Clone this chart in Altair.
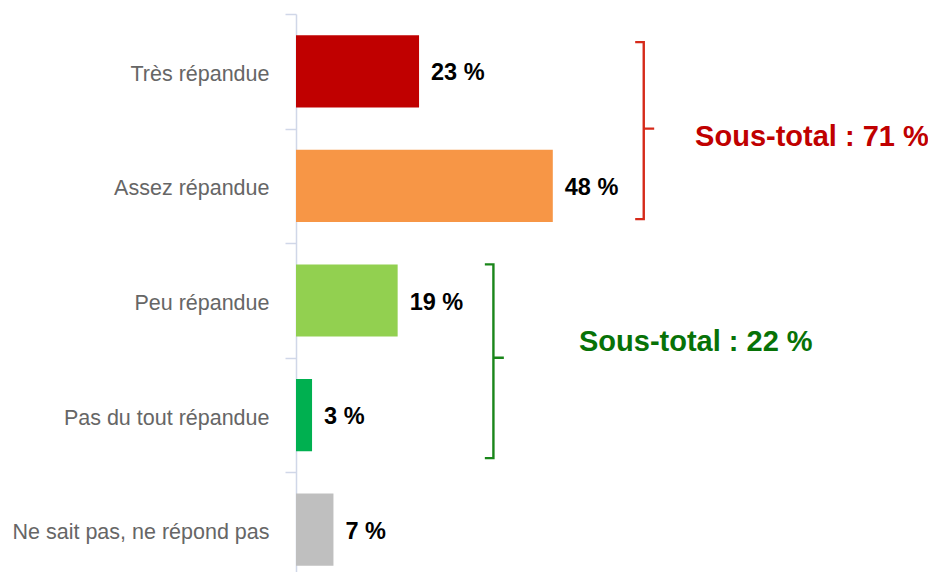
import altair as alt
import pandas as pd

# ---- data ----
categories = ["Très répandue", "Assez répandue", "Peu répandue",
              "Pas du tout répandue", "Ne sait pas, ne répond pas"]
values = [23, 48, 19, 3, 7]
bar_colors = ["#C00000", "#F79646", "#92D050", "#00B050", "#BFBFBF"]

# sub-totals: index of first and last category in each group
group_first = [0, 2]
group_last = [1, 3]
group_line_colors = ["#D62A1A", "#1A861A"]
group_text_colors = ["#C00000", "#077207"]

# ---- layout (styling constants, not data) ----
FONT = "Liberation Sans"
PX_PER_UNIT = 5.35
W = int(round(100 * PX_PER_UNIT))
RANGE_H = 573          # 5 bands of ~114.6 px
H = 558
SVG_W = 920
bracket_x = [65.0, 36.9]
bracket_top_off = [0.245, 0.185]
bracket_bot_off = [0.79, 0.875]
serif_len = 1.6
tip_len = 1.95
text_x = [74.6, 52.9]
text_y = [1.07, 2.86]

df = pd.DataFrame({"cat": categories, "val": values, "color": bar_colors,
                   "label": [f"{v} %" for v in values]})

# bracket paths built from the grouped categories
rows = []
for g, (a, b) in enumerate(zip(group_first, group_last)):
    xv = bracket_x[g]
    top = a + bracket_top_off[g]
    bot = b + bracket_bot_off[g]
    tip = (a + b + 1) / 2
    pts = [(xv - serif_len, top), (xv, top), (xv, tip), (xv + tip_len, tip),
           (xv, tip), (xv, bot), (xv - serif_len, bot)]
    for i, (px, py) in enumerate(pts):
        rows.append({"g": g, "o": i, "bx": px, "by": py,
                     "col": group_line_colors[g]})
bdf = pd.DataFrame(rows)

sdf = pd.DataFrame({
    "tx": text_x,
    "ty": text_y,
    "col": group_text_colors,
    "txt": [f"Sous-total : {sum(values[a:b + 1])} %"
            for a, b in zip(group_first, group_last)],
})

xscale = alt.Scale(domain=[0, 100])
yband = alt.Y("cat:N", sort=categories,
              scale=alt.Scale(paddingInner=0, paddingOuter=0, range=[0, RANGE_H]),
              axis=alt.Axis(title=None, labelFont=FONT, labelFontSize=21.5,
                            labelColor="#666666", domainColor="#D0D7E8",
                            tickColor="#D0D7E8", tickSize=11, tickBand="extent",
                            labelPadding=16, labelLimit=0, labelOffset=3,
                            domainWidth=1.5, tickWidth=1.5))
yq_scale = alt.Scale(domain=[0, 5], range=[0, RANGE_H])

base = alt.Chart(df)
bars = base.mark_bar(height={"band": 0.63}).encode(
    y=yband,
    x=alt.X("val:Q", scale=xscale, axis=None),
    color=alt.Color("color:N", scale=None),
)
labels = base.mark_text(align="left", baseline="middle", dx=12, dy=2, font=FONT,
                        fontSize=23.5, fontWeight="bold", color="#000000").encode(
    y=alt.Y("cat:N", sort=categories), x=alt.X("val:Q", scale=xscale), text="label:N"
)

brackets = alt.Chart(bdf).mark_line(strokeWidth=2.4, strokeJoin="miter").encode(
    x=alt.X("bx:Q", scale=xscale),
    y=alt.Y("by:Q", scale=yq_scale, axis=None),
    color=alt.Color("col:N", scale=None),
    detail="g:N",
    order=alt.Order("o:Q"),
)
subtexts = alt.Chart(sdf).mark_text(align="left", baseline="middle", font=FONT,
                                    fontSize=29, fontWeight="bold").encode(
    x=alt.X("tx:Q", scale=xscale),
    y=alt.Y("ty:Q", scale=yq_scale, axis=None),
    color=alt.Color("col:N", scale=None),
    text="txt:N",
)

chart = alt.layer(
    alt.layer(bars, labels),
    alt.layer(brackets, subtexts),
).resolve_scale(y="independent").properties(
    width=W, height=H,
    autosize=alt.AutoSizeParams(type="none"),
    padding={"left": 288, "top": 6, "right": SVG_W - 288 - W, "bottom": 0},
).configure_view(stroke=None)

chart.save("out.html", embed_options={"renderer": "svg", "actions": False})
